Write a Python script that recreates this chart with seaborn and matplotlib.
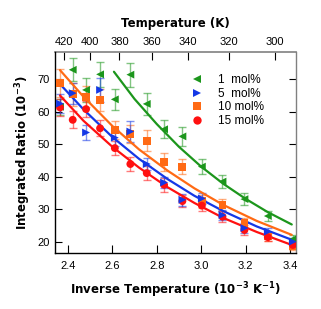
import numpy as np
import pandas as pd
import matplotlib
matplotlib.use("Agg")
import matplotlib.pyplot as plt
import seaborn as sns
from matplotlib.lines import Line2D

# measurement temperatures (K), same grid for all samples
temps = [423, 413, 403, 393, 383, 373, 363, 353, 343, 333, 323, 313, 303, 293]

samples = ["1  mol%", "5  mol%", "10 mol%", "15 mol%"]

ratio_1 = [61.5, 72.9, 66.7, 71.5, 63.8, 71.4, 62.4, 54.6, 52.4, 43.1, 38.5, 33.1, 27.9, 20.8]
err_1 = [2.5, 3.6, 3.6, 3.8, 3.3, 3.7, 3.3, 2.7, 2.8, 2.2, 2.0, 1.8, 1.5, 1.2]

ratio_5 = [62.5, 65.7, 53.6, 66.7, 52.0, 53.9, 43.9, 38.2, 32.9, 33.3, 28.2, 24.2, 23.1, 20.0]
err_5 = [3.0, 3.2, 2.3, 3.8, 2.5, 3.1, 1.9, 1.8, 1.8, 1.8, 1.6, 1.4, 1.2, 1.0]

ratio_10 = [68.8, 65.4, 64.6, 63.6, 54.4, 53.2, 51.1, 44.6, 43.0, 32.5, 31.3, 25.8, 21.6, 18.5]
err_10 = [4.2, 3.5, 3.3, 3.3, 2.7, 2.7, 3.2, 2.7, 2.3, 2.0, 1.8, 1.5, 1.3, 1.1]

ratio_15 = [61.3, 57.5, 60.8, 54.9, 48.8, 43.9, 41.1, 37.5, 32.5, 31.1, 27.7, 23.6, 21.4, 19.0]
err_15 = [2.5, 2.6, 2.5, 2.4, 2.1, 2.1, 2.1, 2.1, 1.9, 1.8, 1.6, 1.4, 1.2, 1.0]

# fitted curves (inverse temperature, ratio)
fit_x_1 = [2.607, 2.70, 2.80, 2.90, 3.00, 3.10, 3.20, 3.30, 3.408]
fit_y_1 = [72.3, 63.9, 56.2, 49.2, 43.1, 37.8, 33.2, 29.1, 25.3]
fit_x = [2.364, 2.47, 2.60, 2.72, 2.85, 2.97, 3.10, 3.25, 3.408]
fit_y_5 = [68.5, 60.7, 52.2, 45.5, 39.2, 34.1, 29.4, 24.7, 20.6]
fit_y_10 = [72.8, 64.6, 55.6, 48.4, 41.8, 36.4, 31.3, 26.4, 22.1]
fit_y_15 = [65.0, 57.2, 49.2, 42.8, 36.7, 31.9, 27.3, 23.0, 19.0]

colors = {"1  mol%": "#1c961c", "5  mol%": "#1438e6",
          "10 mol%": "#ff6a14", "15 mol%": "#ff1010"}
markers = {"1  mol%": "<", "5  mol%": ">", "10 mol%": "s", "15 mol%": "o"}

sns.set_theme(style="ticks")
plt.rcParams["font.family"] = ["Liberation Sans", "DejaVu Sans"]
plt.rcParams["mathtext.fontset"] = "custom"
plt.rcParams["mathtext.rm"] = "DejaVu Sans"
plt.rcParams["mathtext.bf"] = "DejaVu Sans:bold"
for key in ["text.color", "axes.labelcolor", "xtick.color", "ytick.color",
            "xtick.labelcolor", "ytick.labelcolor"]:
    plt.rcParams[key] = "black"

inv_t = [1000.0 / t for t in temps]
ratios = {"1  mol%": ratio_1, "5  mol%": ratio_5, "10 mol%": ratio_10, "15 mol%": ratio_15}
errs = {"1  mol%": err_1, "5  mol%": err_5, "10 mol%": err_10, "15 mol%": err_15}
fits = {"1  mol%": (fit_x_1, fit_y_1), "5  mol%": (fit_x, fit_y_5),
        "10 mol%": (fit_x, fit_y_10), "15 mol%": (fit_x, fit_y_15)}

# drawing order: blue ends up on top
order = ["1  mol%", "10 mol%", "15 mol%", "5  mol%"]
df = pd.concat([
    pd.DataFrame({"invT": inv_t, "ratio": ratios[s], "err": errs[s], "sample": s})
    for s in order
], ignore_index=True)

fig = plt.figure(figsize=(3.21, 3.09), dpi=100)
ax = fig.add_axes([0.171, 0.181, 0.751, 0.651])

for s in order:
    d = df[df["sample"] == s]
    ax.errorbar(d["invT"], d["ratio"], yerr=d["err"], fmt="none", ecolor=colors[s],
                alpha=0.55, elinewidth=1.0, capsize=2.8, capthick=1.0, zorder=2)

for s in order:
    fx, fy = fits[s]
    sns.lineplot(x=fx, y=fy, color=colors[s], lw=1.6, sort=False, ax=ax, zorder=3)

sns.scatterplot(data=df, x="invT", y="ratio", hue="sample", style="sample",
                palette=colors, markers=markers, s=32, edgecolor="none",
                legend=False, ax=ax, zorder=4)

ax.set_xlim(2.341, 3.427)
ax.set_ylim(16.5, 78.4)
ax.set_xticks([2.4, 2.6, 2.8, 3.0, 3.2, 3.4])
ax.set_xticklabels(["2.4", "2.6", "2.8", "3.0", "3.2", "3.4"])
ax.set_yticks([20, 30, 40, 50, 60, 70])
ax.tick_params(axis="x", direction="in", length=5.5, width=0.8, pad=5.5,
               labelsize=8, color="black")
ax.tick_params(axis="y", direction="in", length=5, width=0.8, pad=3.5,
               labelsize=8, right=True, color="black")
for side in ["left", "bottom"]:
    ax.spines[side].set_color("black")
    ax.spines[side].set_linewidth(1.0)
ax.spines["right"].set_color("#808080")
ax.spines["right"].set_linewidth(1.0)
ax.spines["top"].set_visible(False)

label_font = dict(family="DejaVu Sans", fontsize=8.5, fontweight="bold", color="black")
ax.set_xlabel("Inverse Temperature (10$^{\\mathbf{-3}}$ K$^{\\mathbf{-1}}$)",
              labelpad=7, **label_font)
ax.set_ylabel("Integrated Ratio (10$^{\\mathbf{-3}}$)", labelpad=3, **label_font)


def to_temp(v):
    v = np.asarray(v, dtype=float)
    with np.errstate(divide="ignore"):
        return 1000.0 / v


top = ax.secondary_xaxis("top", functions=(to_temp, to_temp))
top.set_xticks([420, 400, 380, 360, 340, 320, 300])
top.tick_params(direction="in", length=6, width=0.8, pad=3.5, labelsize=8, color="black")
top.spines["top"].set_color("#808080")
top.spines["top"].set_linewidth(1.2)
top.set_xlabel("Temperature (K)", labelpad=7, **label_font)

handles = [Line2D([], [], ls="none", marker=markers[s], color=colors[s],
                  markersize=6, markeredgewidth=0) for s in samples]
ax.legend(handles, samples, loc="center", bbox_to_anchor=(0.703, 0.758),
          frameon=False, fontsize=8.5, labelspacing=0.15, handletextpad=0.8,
          handlelength=2.0)

fig.savefig("out.png", dpi=100)
